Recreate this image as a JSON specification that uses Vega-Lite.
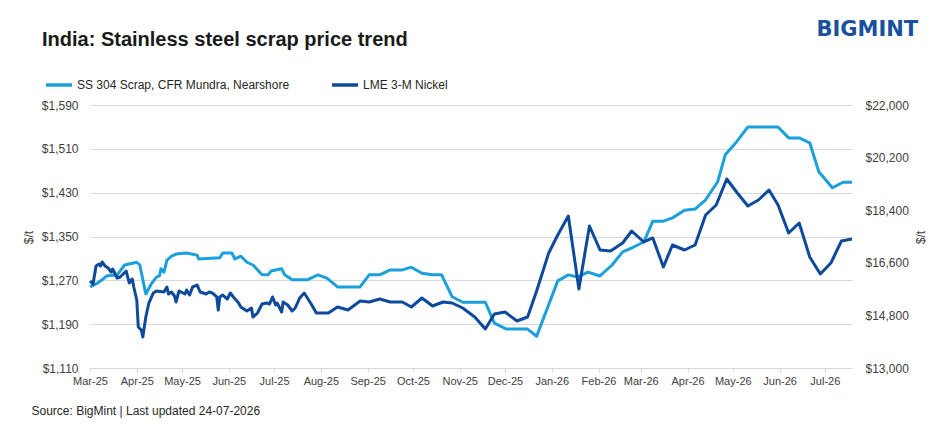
{
  "$schema": "https://vega.github.io/schema/vega-lite/v6.json",
  "description": "India: Stainless steel scrap price trend, SS 304 scrap vs LME nickel",
  "autosize": "none",
  "width": 762,
  "height": 263,
  "padding": {"left": 90, "top": 105, "right": 99, "bottom": 68},
  "background": "white",
  "config": {
    "view": {"stroke": null},
    "font": "Liberation Sans",
    "axis": {"labelColor": "#404040", "titleColor": "#404040", "labelFontSize": 12, "titleFontSize": 12, "titleFontWeight": "normal"}
  },
  "title": {
    "text": "India: Stainless steel scrap price trend",
    "anchor": "start",
    "frame": "group",
    "fontSize": 20,
    "fontWeight": "bold",
    "color": "#1a1a1a",
    "dx": -48,
    "dy": 36
  },
  "datasets": {
    "ss304": [
      {"date": "2025-03-01", "price": 1258}, {"date": "2025-03-06", "price": 1265}, {"date": "2025-03-09", "price": 1271},
      {"date": "2025-03-12", "price": 1278}, {"date": "2025-03-19", "price": 1280}, {"date": "2025-03-24", "price": 1298},
      {"date": "2025-04-01", "price": 1303}, {"date": "2025-04-03", "price": 1298}, {"date": "2025-04-06", "price": 1258},
      {"date": "2025-04-07", "price": 1245}, {"date": "2025-04-11", "price": 1265}, {"date": "2025-04-14", "price": 1276},
      {"date": "2025-04-16", "price": 1278}, {"date": "2025-04-17", "price": 1291}, {"date": "2025-04-19", "price": 1285},
      {"date": "2025-04-21", "price": 1307}, {"date": "2025-04-24", "price": 1314}, {"date": "2025-04-27", "price": 1318},
      {"date": "2025-05-04", "price": 1320}, {"date": "2025-05-11", "price": 1316}, {"date": "2025-05-12", "price": 1309},
      {"date": "2025-05-26", "price": 1311}, {"date": "2025-05-28", "price": 1320}, {"date": "2025-06-03", "price": 1320},
      {"date": "2025-06-05", "price": 1309}, {"date": "2025-06-09", "price": 1314}, {"date": "2025-06-13", "price": 1303},
      {"date": "2025-06-17", "price": 1298}, {"date": "2025-06-19", "price": 1292}, {"date": "2025-06-23", "price": 1280},
      {"date": "2025-06-27", "price": 1280}, {"date": "2025-06-29", "price": 1287}, {"date": "2025-07-06", "price": 1291},
      {"date": "2025-07-08", "price": 1280}, {"date": "2025-07-13", "price": 1271}, {"date": "2025-07-23", "price": 1271},
      {"date": "2025-07-30", "price": 1280}, {"date": "2025-08-05", "price": 1274}, {"date": "2025-08-12", "price": 1258},
      {"date": "2025-08-27", "price": 1258}, {"date": "2025-09-02", "price": 1280}, {"date": "2025-09-09", "price": 1280},
      {"date": "2025-09-16", "price": 1289}, {"date": "2025-09-24", "price": 1289}, {"date": "2025-09-30", "price": 1294},
      {"date": "2025-10-07", "price": 1283}, {"date": "2025-10-14", "price": 1280}, {"date": "2025-10-20", "price": 1280},
      {"date": "2025-10-27", "price": 1240}, {"date": "2025-11-03", "price": 1230}, {"date": "2025-11-18", "price": 1230},
      {"date": "2025-11-24", "price": 1192}, {"date": "2025-12-02", "price": 1181}, {"date": "2025-12-16", "price": 1181},
      {"date": "2025-12-22", "price": 1168}, {"date": "2026-01-05", "price": 1269}, {"date": "2026-01-12", "price": 1280},
      {"date": "2026-01-18", "price": 1276}, {"date": "2026-01-25", "price": 1285}, {"date": "2026-02-02", "price": 1278},
      {"date": "2026-02-10", "price": 1298}, {"date": "2026-02-17", "price": 1322}, {"date": "2026-02-23", "price": 1329},
      {"date": "2026-03-03", "price": 1340}, {"date": "2026-03-09", "price": 1378}, {"date": "2026-03-16", "price": 1378},
      {"date": "2026-03-22", "price": 1384}, {"date": "2026-03-30", "price": 1398}, {"date": "2026-04-06", "price": 1400},
      {"date": "2026-04-13", "price": 1417}, {"date": "2026-04-21", "price": 1450}, {"date": "2026-04-26", "price": 1499},
      {"date": "2026-05-03", "price": 1521}, {"date": "2026-05-11", "price": 1550}, {"date": "2026-05-31", "price": 1550},
      {"date": "2026-06-07", "price": 1530}, {"date": "2026-06-14", "price": 1530}, {"date": "2026-06-21", "price": 1521},
      {"date": "2026-06-27", "price": 1468}, {"date": "2026-07-06", "price": 1439}, {"date": "2026-07-13", "price": 1449},
      {"date": "2026-07-19", "price": 1449}
    ],
    "nickel": [
      {"date": "2025-03-01", "price": 15977}, {"date": "2025-03-03", "price": 15875}, {"date": "2025-03-05", "price": 16491},
      {"date": "2025-03-07", "price": 16559}, {"date": "2025-03-08", "price": 16491}, {"date": "2025-03-09", "price": 16627},
      {"date": "2025-03-11", "price": 16491}, {"date": "2025-03-13", "price": 16422}, {"date": "2025-03-15", "price": 16285},
      {"date": "2025-03-16", "price": 16388}, {"date": "2025-03-19", "price": 16080}, {"date": "2025-03-21", "price": 16114},
      {"date": "2025-03-23", "price": 16217}, {"date": "2025-03-25", "price": 16319}, {"date": "2025-03-27", "price": 15909},
      {"date": "2025-03-29", "price": 16046}, {"date": "2025-03-30", "price": 15772}, {"date": "2025-04-01", "price": 15327},
      {"date": "2025-04-02", "price": 14403}, {"date": "2025-04-04", "price": 14300}, {"date": "2025-04-05", "price": 14061},
      {"date": "2025-04-07", "price": 14745}, {"date": "2025-04-09", "price": 15224}, {"date": "2025-04-12", "price": 15567},
      {"date": "2025-04-14", "price": 15635}, {"date": "2025-04-19", "price": 15601}, {"date": "2025-04-21", "price": 15772},
      {"date": "2025-04-22", "price": 15532}, {"date": "2025-04-24", "price": 15601}, {"date": "2025-04-26", "price": 15464},
      {"date": "2025-04-27", "price": 15259}, {"date": "2025-04-29", "price": 15635}, {"date": "2025-05-03", "price": 15532},
      {"date": "2025-05-04", "price": 15669}, {"date": "2025-05-06", "price": 15498}, {"date": "2025-05-08", "price": 15772},
      {"date": "2025-05-11", "price": 15840}, {"date": "2025-05-13", "price": 15601}, {"date": "2025-05-17", "price": 15532},
      {"date": "2025-05-19", "price": 15601}, {"date": "2025-05-21", "price": 15567}, {"date": "2025-05-24", "price": 15430},
      {"date": "2025-05-25", "price": 14985}, {"date": "2025-05-26", "price": 15430}, {"date": "2025-05-28", "price": 15498},
      {"date": "2025-05-31", "price": 15361}, {"date": "2025-06-02", "price": 15567}, {"date": "2025-06-04", "price": 15430},
      {"date": "2025-06-07", "price": 15259}, {"date": "2025-06-09", "price": 15088}, {"date": "2025-06-11", "price": 15019},
      {"date": "2025-06-13", "price": 14951}, {"date": "2025-06-16", "price": 15053}, {"date": "2025-06-17", "price": 14745},
      {"date": "2025-06-20", "price": 14882}, {"date": "2025-06-23", "price": 15190}, {"date": "2025-06-26", "price": 15224},
      {"date": "2025-06-28", "price": 15190}, {"date": "2025-06-30", "price": 15430}, {"date": "2025-07-02", "price": 15156},
      {"date": "2025-07-03", "price": 15224}, {"date": "2025-07-06", "price": 14917}, {"date": "2025-07-07", "price": 15259},
      {"date": "2025-07-10", "price": 15156}, {"date": "2025-07-13", "price": 14951}, {"date": "2025-07-15", "price": 15053},
      {"date": "2025-07-18", "price": 15396}, {"date": "2025-07-21", "price": 15567}, {"date": "2025-07-26", "price": 15156},
      {"date": "2025-07-29", "price": 14882}, {"date": "2025-08-06", "price": 14882}, {"date": "2025-08-12", "price": 15088},
      {"date": "2025-08-19", "price": 14985}, {"date": "2025-08-27", "price": 15293}, {"date": "2025-09-02", "price": 15259},
      {"date": "2025-09-09", "price": 15361}, {"date": "2025-09-16", "price": 15259}, {"date": "2025-09-24", "price": 15259},
      {"date": "2025-09-30", "price": 15088}, {"date": "2025-10-07", "price": 15396}, {"date": "2025-10-14", "price": 15122},
      {"date": "2025-10-21", "price": 15259}, {"date": "2025-10-27", "price": 15224}, {"date": "2025-11-03", "price": 15053},
      {"date": "2025-11-11", "price": 14745}, {"date": "2025-11-18", "price": 14335}, {"date": "2025-11-24", "price": 14848},
      {"date": "2025-12-01", "price": 14917}, {"date": "2025-12-09", "price": 14609}, {"date": "2025-12-16", "price": 14745},
      {"date": "2025-12-22", "price": 15635}, {"date": "2025-12-30", "price": 16935}, {"date": "2026-01-05", "price": 17551},
      {"date": "2026-01-12", "price": 18202}, {"date": "2026-01-19", "price": 15704}, {"date": "2026-01-26", "price": 17859},
      {"date": "2026-02-02", "price": 17038}, {"date": "2026-02-09", "price": 17004}, {"date": "2026-02-17", "price": 17278},
      {"date": "2026-02-23", "price": 17688}, {"date": "2026-03-03", "price": 17312}, {"date": "2026-03-09", "price": 17449},
      {"date": "2026-03-16", "price": 16456}, {"date": "2026-03-22", "price": 17209}, {"date": "2026-03-30", "price": 17038},
      {"date": "2026-04-06", "price": 17209}, {"date": "2026-04-13", "price": 18236}, {"date": "2026-04-20", "price": 18578},
      {"date": "2026-04-27", "price": 19468}, {"date": "2026-05-04", "price": 18989}, {"date": "2026-05-11", "price": 18544},
      {"date": "2026-05-18", "price": 18749}, {"date": "2026-05-25", "price": 19091}, {"date": "2026-05-31", "price": 18578},
      {"date": "2026-06-07", "price": 17620}, {"date": "2026-06-14", "price": 17962}, {"date": "2026-06-21", "price": 16799},
      {"date": "2026-06-28", "price": 16217}, {"date": "2026-07-05", "price": 16593}, {"date": "2026-07-12", "price": 17346},
      {"date": "2026-07-19", "price": 17415}
    ]
  },
  "layer": [
    {
      "data": {"name": "ss304"},
      "mark": {"type": "line", "strokeWidth": 3, "strokeJoin": "round"},
      "encoding": {
        "x": {
          "field": "date", "type": "temporal",
          "scale": {"type": "utc", "domain": [{"year": 2025, "month": 3, "date": 1, "utc": true}, {"year": 2026, "month": 7, "date": 19, "utc": true}]},
          "axis": {
            "orient": "bottom",
            "tickCount": {"interval": "month", "step": 1},
            "labelExpr": "utcFormat(datum.value, '%b-%y')",
            "labelOverlap": false, "labelAlign": "center", "labelFlush": false,
            "labelFontSize": 11, "labelColor": "#404040", "labelPadding": 3,
            "tickSize": 4, "tickColor": "#d9d9d9", "domainColor": "#d9d9d9", "grid": false,
            "title": "Source: BigMint | Last updated 24-07-2026",
            "titleX": -59, "titleY": 46, "titleAlign": "left", "titleBaseline": "alphabetic",
            "titleColor": "#262626", "titleFontSize": 12, "titleFontWeight": "normal"
          }
        },
        "y": {
          "field": "price", "type": "quantitative",
          "scale": {"domain": [1110, 1590], "nice": false, "zero": false},
          "axis": {
            "values": [1110, 1190, 1270, 1350, 1430, 1510, 1590],
            "format": "$,.0f", "ticks": false, "domain": false,
            "grid": true, "gridColor": "#d9d9d9", "labelPadding": 12,
            "title": "$/t", "titleX": -62, "titleY": 132, "titleAngle": -90,
            "titleAlign": "center", "titleBaseline": "middle"
          }
        },
        "color": {
          "datum": "SS 304 Scrap, CFR Mundra, Nearshore",
          "scale": {"domain": ["SS 304 Scrap, CFR Mundra, Nearshore", "LME 3-M Nickel"], "range": ["#1ba0dc", "#0e4a9b"]},
          "legend": {
            "title": null, "orient": "none", "legendX": -46, "legendY": -35,
            "direction": "horizontal", "columns": 2, "columnPadding": 35, "padding": 0,
            "symbolType": "stroke", "symbolSize": 676, "symbolStrokeWidth": 3.5,
            "labelOffset": 3, "labelFontSize": 12, "labelColor": "#262626", "labelLimit": 400
          }
        }
      }
    },
    {
      "data": {"name": "nickel"},
      "mark": {"type": "line", "strokeWidth": 3, "strokeJoin": "round"},
      "encoding": {
        "x": {
          "field": "date", "type": "temporal",
          "axis": {
            "orient": "top", "labels": false, "ticks": false, "domain": false, "grid": false,
            "title": "BIGMINT", "titleX": 726, "titleY": -70, "titleAlign": "left", "titleBaseline": "alphabetic",
            "titleFont": "DejaVu Sans", "titleFontSize": 21, "titleFontWeight": "bold", "titleColor": "#19509e"
          }
        },
        "y": {
          "field": "price", "type": "quantitative",
          "scale": {"domain": [13000, 22000], "nice": false, "zero": false},
          "axis": {
            "orient": "right",
            "values": [13000, 14800, 16600, 18400, 20200, 22000],
            "format": "$,.0f", "ticks": false, "domain": false, "grid": false, "labelPadding": 13,
            "title": "$/t", "titleX": 68, "titleY": 132, "titleAngle": -90,
            "titleAlign": "center", "titleBaseline": "middle"
          }
        },
        "color": {"datum": "LME 3-M Nickel"}
      }
    }
  ],
  "resolve": {"scale": {"y": "independent"}, "axis": {"x": "independent"}}
}
